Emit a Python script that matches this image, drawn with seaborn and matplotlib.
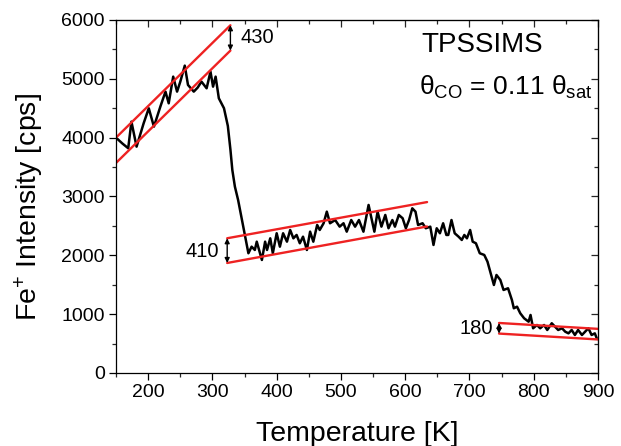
import matplotlib
matplotlib.use("Agg")
import matplotlib.pyplot as plt
from matplotlib.ticker import MultipleLocator
import seaborn as sns
import pandas as pd

# Fe+ secondary ion signal during the temperature-programmed SSIMS run
temperature = [151, 160, 169, 174, 182, 193, 201, 209, 219, 227, 232, 239, 245, 250,
               257, 262, 271, 277, 283, 291, 297, 301, 305, 310, 318, 324, 328, 331,
               335, 340, 346, 351, 356,
               361, 366, 369, 377, 382, 385, 390, 394, 400, 405, 410, 416, 421, 426,
               431, 436, 441, 447, 452, 457, 463, 467, 473, 478, 483, 491, 498, 504,
               509, 516, 522, 528, 535, 543, 548, 552, 557, 563, 569, 574, 580, 584,
               590, 596, 601, 606, 611, 616, 620, 627, 632, 639, 644, 649, 654, 659,
               664, 667, 672, 677, 683, 688, 692, 696, 701, 705, 710, 716, 723, 728,
               733, 738, 742, 748, 753, 760, 766, 769, 774, 779, 785, 792, 795, 799,
               805, 810, 816, 821, 828, 833, 838, 844, 849, 854, 859, 864, 869, 875,
               880, 885, 890, 895, 898]
intensity = [3990, 3900, 3820, 4272, 3847, 4244, 4499, 4187, 4527, 4782, 4584, 5037, 4782, 4950,
             5224, 4896, 4782, 4850, 4952, 4839, 5122, 4867, 5037, 4669, 4500, 4200, 3800, 3450,
             3167, 2940, 2600, 2317, 2035,
             2147, 2091, 2232, 1921, 2232, 2091, 2289, 2035, 2375, 2147, 2375, 2232, 2431, 2289,
             2346, 2205, 2317, 2091, 2402, 2232, 2516, 2431, 2545, 2742, 2545, 2600, 2487, 2545,
             2402, 2600, 2487, 2600, 2402, 2856, 2600, 2402, 2742, 2487, 2686, 2460, 2600, 2487,
             2686, 2630, 2460, 2600, 2799, 2742, 2516, 2545, 2460, 2487, 2176, 2460, 2375, 2545,
             2346, 2346, 2600, 2375, 2317, 2261, 2346, 2289, 2431, 2232, 2205, 2035, 2006, 1892,
             1695, 1496, 1666, 1581, 1411, 1440, 1241, 1100, 1127, 1015, 930, 872, 986, 760,
             816, 760, 816, 731, 845, 787, 731, 760, 702, 674, 731, 646, 731, 646,
             702, 760, 646, 674, 590]

# Parallel guide lines bracketing each region (start/end temperature, upper/lower level)
band_t_start = [150, 323, 746]
band_t_end = [328, 634, 900]
band_upper_start = [4000, 2290, 850]
band_upper_end = [5910, 2905, 750]
band_lower_start = [3570, 1870, 670]
band_lower_end = [5480, 2490, 570]
band_width_labels = ["430", "410", "180"]
arrow_t = [328, 323, 746]

sns.set_style("ticks")
plt.rcParams["font.family"] = ["Liberation Sans", "DejaVu Sans"]
plt.rcParams["mathtext.fontset"] = "custom"
plt.rcParams["mathtext.rm"] = "Liberation Sans"
plt.rcParams["mathtext.it"] = "Liberation Sans:italic"
plt.rcParams["mathtext.bf"] = "Liberation Sans:bold"
plt.rcParams["text.color"] = "black"
plt.rcParams["axes.labelcolor"] = "black"

fig = plt.figure(figsize=(6.21, 4.46), dpi=100)
ax = fig.add_axes([0.1868, 0.1637, 0.7762, 0.7915])

df = pd.DataFrame({"T": temperature, "I": intensity})
sns.lineplot(data=df, x="T", y="I", ax=ax, color="black", linewidth=1.8, sort=False)

for i in range(len(band_t_start)):
    for y0, y1 in ((band_upper_start[i], band_upper_end[i]),
                   (band_lower_start[i], band_lower_end[i])):
        seg = pd.DataFrame({"T": [band_t_start[i], band_t_end[i]], "I": [y0, y1]})
        sns.lineplot(data=seg, x="T", y="I", ax=ax, color="#ee2222", linewidth=1.7)

# double arrows showing the band width
for i, xa in enumerate(arrow_t):
    frac = (xa - band_t_start[i]) / (band_t_end[i] - band_t_start[i])
    yu = band_upper_start[i] + frac * (band_upper_end[i] - band_upper_start[i])
    yl = band_lower_start[i] + frac * (band_lower_end[i] - band_lower_start[i])
    ax.annotate("", xy=(xa, yu), xytext=(xa, yl),
                arrowprops=dict(arrowstyle="<|-|>", color="black", lw=1.0,
                                mutation_scale=7, shrinkA=0, shrinkB=0))

ax.text(343, 5694, band_width_labels[0], fontsize=14.5, ha="left", va="center")
ax.text(310, 2060, band_width_labels[1], fontsize=14.5, ha="right", va="center")
ax.text(737, 750, band_width_labels[2], fontsize=14.5, ha="right", va="center")

ax.text(0.633, 0.929, "TPSSIMS", transform=ax.transAxes, fontsize=20,
        ha="left", va="center")
ax.text(0.628, 0.808, r"θ$_{\rm CO}$ = 0.11 θ$_{\rm sat}$", transform=ax.transAxes,
        fontsize=19, ha="left", va="center")

ax.set_xlim(150, 900)
ax.set_ylim(0, 6000)
ax.xaxis.set_major_locator(MultipleLocator(100))
ax.xaxis.set_minor_locator(MultipleLocator(50))
ax.yaxis.set_major_locator(MultipleLocator(1000))
ax.yaxis.set_minor_locator(MultipleLocator(500))
ax.set_xticks([200, 300, 400, 500, 600, 700, 800, 900])

ax.tick_params(which="major", direction="out", length=5, width=0.9, labelsize=14,
               colors="black", pad=3)
ax.tick_params(which="minor", direction="out", length=3, width=0.9)

for side in ("top", "right", "left", "bottom"):
    ax.spines[side].set_visible(True)
    ax.spines[side].set_linewidth(0.9)
    ax.spines[side].set_color("black")

# inward ticks on the top and right frame edges
top = ax.secondary_xaxis("top")
top.xaxis.set_major_locator(MultipleLocator(100))
top.xaxis.set_minor_locator(MultipleLocator(50))
top.tick_params(which="major", direction="in", length=5, width=0.9, labeltop=False)
top.tick_params(which="minor", direction="in", length=3, width=0.9)
right = ax.secondary_yaxis("right")
right.yaxis.set_major_locator(MultipleLocator(1000))
right.yaxis.set_minor_locator(MultipleLocator(500))
right.tick_params(which="major", direction="in", length=5, width=0.9, labelright=False)
right.tick_params(which="minor", direction="in", length=3, width=0.9)

ax.set_xlabel("Temperature [K]", fontsize=20.5)
ax.set_ylabel(r"Fe$^{+}$ Intensity [cps]", fontsize=20.5)
ax.xaxis.set_label_coords(0.5, -0.135)
ax.yaxis.set_label_coords(-0.146, 0.47)

fig.savefig("out.png", dpi=100)
